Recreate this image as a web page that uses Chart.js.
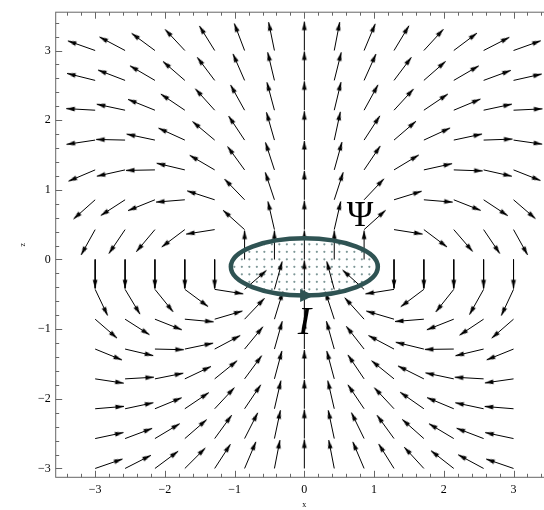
<!DOCTYPE html>
<html>
<head>
<meta charset="utf-8">
<script src="https://cdn.jsdelivr.net/npm/chart.js@4.4.0/dist/chart.umd.min.js"></script>
<style>
  html, body { margin: 0; padding: 0; background: #fff; overflow: hidden; }
  #wrap { width: 544px; height: 510px; overflow: hidden; }
</style>
</head>
<body>
<div id="wrap"><canvas id="field" width="560" height="510"></canvas></div>
<script>
// sample points of the field (x across, z up)
const xGrid = [-3, -2.571, -2.143, -1.714, -1.286, -0.857, -0.429, 0, 0.429, 0.857, 1.286, 1.714, 2.143, 2.571, 3];
const zGrid = [-3, -2.571, -2.143, -1.714, -1.286, -0.857, -0.429, 0, 0.429, 0.857, 1.286, 1.714, 2.143, 2.571, 3];

// arrow direction in degrees (counter-clockwise from +x), one row per z, bottom row first
const angleRows = [
  [19, 27, 36.6, 45, 57, 67, 79, 90, 101, 113, 122, 132.6, 142, 151.6, 161],
  [12, 20.6, 31, 41, 54, 63, 78, 90, 102, 116, 126, 138.4, 149, 159, 168],
  [4.7, 12, 22.4, 34, 47, 56, 77, 90, 103, 124, 133, 145, 157.3, 168, 175.4],
  [351.4, 3.3, 11.3, 25.4, 39, 53.6, 75, 90, 105, 124, 141, 153.4, 168, 176.7, 188.1],
  [337.8, 346.8, 358.7, 11.8, 28, 50.6, 74.3, 90, 105.7, 128, 152, 166.3, 180.7, 193.4, 202],
  [319, 327.4, 338.4, 354.7, 16.4, 46.4, 73, 90, 108, 132, 163.6, 184.6, 201.6, 213.7, 221],
  [295.4, 301, 309, 323.4, 351, 41, 74.5, 90, 105, 138, 189, 217, 231.5, 240.8, 245],
  [270, 270, 270, 270, 270, 90, 90, 90, 90, 90, 270, 270, 270, 270, 270],
  [241, 236, 230, 217, 189, 138, 103, 90, 77, 42, 351, 323, 310.7, 304, 299],
  [221.7, 213, 202, 184.6, 162, 134, 108.4, 90, 72, 46.6, 17.2, 355.3, 338.4, 326.5, 319.2],
  [203, 192.6, 181, 166.6, 149.6, 126, 108, 90, 74.5, 56, 31.1, 12.5, 358, 347.3, 338.4],
  [188.5, 178.7, 168, 155.5, 140, 123.5, 106, 90, 77.8, 57, 40.7, 24.8, 12.1, 2, 351.9],
  [176.8, 168, 158, 146, 132, 119, 105, 90, 76.5, 61.3, 47.4, 34, 22.7, 12.1, 2.7],
  [166, 159, 149.6, 139, 127, 113.6, 103.5, 90, 76, 65.8, 53.1, 41.2, 30.2, 20.2, 12.7],
  [160.5, 152, 143.5, 133, 121.8, 110.8, 101.6, 90, 79.1, 67.3, 58.9, 47.4, 36.9, 27.2, 19.7]
];

const xTicks = [-3, -2, -1, 0, 1, 2, 3];
const zTicks = [-3, -2, -1, 0, 1, 2, 3];

const arrowLen = 0.415;
const serif = "'Liberation Serif', 'Times New Roman', serif";
const frameColor = '#666';
const loopColor = '#2f5353';
const loopCenter = { x: 0, z: -0.106 };
const loopRadii = { x: 1.054, z: 0.41 };

// shafts (with gaps) and head positions
const shafts = [];
const heads = [];
const headRot = [];
zGrid.forEach((z, j) => {
  xGrid.forEach((x, i) => {
    const deg = angleRows[j][i];
    const a = deg * Math.PI / 180;
    const hx = x + arrowLen * Math.cos(a);
    const hz = z + arrowLen * Math.sin(a);
    shafts.push({ x: x, y: z }, { x: hx, y: hz }, { x: hx, y: null });
    heads.push({ x: hx, y: hz });
    headRot.push(90 - deg);
  });
});

// arrow head sprite, tip at the centre, pointing up
const headImg = document.createElement('canvas');
headImg.width = 20;
headImg.height = 20;
const hc = headImg.getContext('2d');
hc.fillStyle = '#000';
hc.beginPath();
hc.moveTo(10, 10);
hc.lineTo(12.4, 18.5);
hc.lineTo(7.6, 18.5);
hc.closePath();
hc.fill();

const fmt = v => (v < 0 ? '\u2212' + Math.abs(v) : String(v));

const overlay = {
  id: 'overlay',
  beforeDatasetsDraw(chart) {
    const { ctx, scales: { x, y } } = chart;
    const cx = x.getPixelForValue(loopCenter.x);
    const cy = y.getPixelForValue(loopCenter.z);
    const rx = x.getPixelForValue(loopCenter.x + loopRadii.x) - cx;
    const ry = cy - y.getPixelForValue(loopCenter.z + loopRadii.z);
    ctx.save();
    ctx.beginPath();
    ctx.ellipse(cx, cy, rx, ry, 0, 0, 2 * Math.PI);
    ctx.clip();
    ctx.fillStyle = '#7d9797';
    const step = 7.5;
    for (let py = cy - Math.ceil(ry / step) * step; py <= cy + ry; py += step) {
      for (let px = cx - 2.5 - Math.ceil(rx / step) * step; px <= cx + rx; px += step) {
        ctx.beginPath();
        ctx.arc(px, py, 1.1, 0, 2 * Math.PI);
        ctx.fill();
      }
    }
    ctx.restore();
  },
  afterDatasetsDraw(chart) {
    const { ctx, chartArea: ca, scales: { x, y } } = chart;
    const cx = x.getPixelForValue(loopCenter.x);
    const cy = y.getPixelForValue(loopCenter.z);
    const rx = x.getPixelForValue(loopCenter.x + loopRadii.x) - cx;
    const ry = cy - y.getPixelForValue(loopCenter.z + loopRadii.z);
    ctx.save();
    // current loop
    ctx.strokeStyle = loopColor;
    ctx.lineWidth = 4.5;
    ctx.beginPath();
    ctx.ellipse(cx, cy, rx, ry, 0, 0, 2 * Math.PI);
    ctx.stroke();
    const tipX = x.getPixelForValue(0.14);
    const tipY = cy + ry;
    ctx.fillStyle = loopColor;
    ctx.beginPath();
    ctx.moveTo(tipX, tipY);
    ctx.lineTo(tipX - 14, tipY - 6.5);
    ctx.lineTo(tipX - 14, tipY + 6.5);
    ctx.closePath();
    ctx.fill();

    // labels
    ctx.fillStyle = '#000';
    ctx.textAlign = 'center';
    ctx.textBaseline = 'middle';
    ctx.font = '36px ' + serif;
    ctx.fillText('\u03A8', x.getPixelForValue(0.8), y.getPixelForValue(0.62));
    ctx.font = 'italic 40px ' + serif;
    ctx.fillText('I', x.getPixelForValue(0), y.getPixelForValue(-0.92));

    // frame and inward ticks
    ctx.strokeStyle = frameColor;
    ctx.lineWidth = 1;
    ctx.strokeRect(ca.left, ca.top, ca.right - ca.left, ca.bottom - ca.top);
    ctx.beginPath();
    for (let k = -20; k <= 20; k++) {
      const v = k * 0.2;
      const len = k % 5 === 0 ? 6.5 : 3.5;
      if (v > x.min && v < x.max) {
        const px = Math.round(x.getPixelForValue(v)) + 0.5;
        ctx.moveTo(px, ca.bottom); ctx.lineTo(px, ca.bottom - len);
        ctx.moveTo(px, ca.top); ctx.lineTo(px, ca.top + len);
      }
      if (v > y.min && v < y.max) {
        const py = Math.round(y.getPixelForValue(v)) + 0.5;
        ctx.moveTo(ca.left, py); ctx.lineTo(ca.left + len, py);
        ctx.moveTo(ca.right, py); ctx.lineTo(ca.right - len, py);
      }
    }
    ctx.stroke();
    ctx.restore();
  }
};

new Chart(document.getElementById('field'), {
  type: 'scatter',
  data: {
    datasets: [
      {
        data: shafts,
        showLine: true,
        spanGaps: false,
        borderColor: '#000',
        borderWidth: 1,
        pointRadius: 0,
        fill: false
      },
      {
        data: heads,
        showLine: false,
        pointStyle: headImg,
        pointRadius: 6,
        rotation: headRot
      }
    ]
  },
  options: {
    responsive: false,
    animation: false,
    layout: { padding: { top: 9.7, right: 5, left: 0, bottom: 0 } },
    plugins: { legend: { display: false }, tooltip: { enabled: false } },
    scales: {
      x: {
        type: 'linear',
        min: -3.566,
        max: 3.566,
        grid: { display: false, drawTicks: false },
        border: { display: false },
        ticks: { padding: 5, color: '#000', font: { family: serif, size: 12 }, callback: fmt },
        afterBuildTicks: s => { s.ticks = xTicks.map(v => ({ value: v })); },
        afterFit: s => { s.height = 32.7; },
        title: { display: true, text: 'x', color: '#000', font: { family: serif, size: 8 }, padding: { top: 0, bottom: 0 } }
      },
      y: {
        type: 'linear',
        min: -3.127,
        max: 3.55,
        grid: { display: false, drawTicks: false },
        border: { display: false },
        ticks: { padding: 5, color: '#000', font: { family: serif, size: 12 }, callback: fmt },
        afterBuildTicks: s => { s.ticks = zTicks.map(v => ({ value: v })); },
        afterFit: s => { s.width = 55.7; },
        title: { display: true, text: 'z', color: '#000', font: { family: serif, size: 8 }, padding: { top: 18, bottom: 0 } }
      }
    }
  },
  plugins: [overlay]
});
</script>
</body>
</html>
